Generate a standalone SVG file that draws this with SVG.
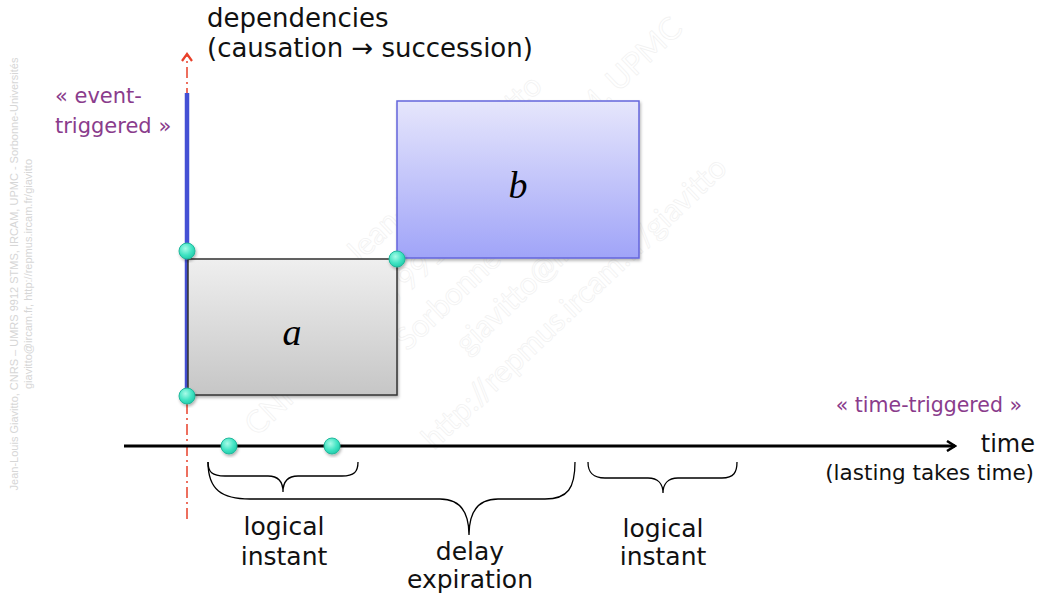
<svg xmlns="http://www.w3.org/2000/svg" width="1041" height="598" viewBox="0 0 1041 598">
<style>
.lbl{font-family:"DejaVu Sans","Liberation Sans",sans-serif;fill:#111;}
.pur{font-family:"DejaVu Sans","Liberation Sans",sans-serif;fill:#8a3c8c;}
.var{font-family:"Liberation Serif","DejaVu Serif",serif;font-style:italic;fill:#000;font-size:38px;text-anchor:middle;}
.mid{text-anchor:middle;}
.brace{fill:none;stroke:#000;stroke-width:1.3;}
.dot{fill:url(#dotg);stroke:#22b89c;stroke-width:1;filter:url(#sh);}
.wm{font-family:"Liberation Sans",sans-serif;fill:#d6d6d6;font-size:11px;text-anchor:middle;}
.wd{font-family:"Lato","DejaVu Sans",sans-serif;fill:none;stroke:#f1f1f1;stroke-width:0.7;font-size:31px;}
</style>
<defs>
<linearGradient id="ga" x1="0" y1="0" x2="0" y2="1"><stop offset="0" stop-color="#efefef"/><stop offset="1" stop-color="#c6c6c6"/></linearGradient>
<linearGradient id="gb" x1="0" y1="0" x2="0" y2="1"><stop offset="0" stop-color="#e6e6fc"/><stop offset="1" stop-color="#a0a4f8"/></linearGradient>
<radialGradient id="dotg" cx="0.4" cy="0.35" r="0.7"><stop offset="0" stop-color="#a8fbe8"/><stop offset="0.6" stop-color="#3fe3c2"/><stop offset="1" stop-color="#1fc8a8"/></radialGradient>
<filter id="sh" x="-20%" y="-20%" width="140%" height="140%"><feDropShadow dx="1" dy="2" stdDeviation="1.5" flood-color="#000" flood-opacity="0.3"/></filter>
<marker id="ah" viewBox="0 0 12 12" refX="10" refY="6" markerWidth="12" markerHeight="12" markerUnits="userSpaceOnUse" orient="auto"><path d="M2,1 L10,6 L2,11" fill="none" stroke="#000" stroke-width="2.5"/></marker>
<marker id="ahr" viewBox="0 0 12 12" refX="10" refY="6" markerWidth="12" markerHeight="12" markerUnits="userSpaceOnUse" orient="auto"><path d="M3,1 L10,6 L3,11" fill="none" stroke="#e8402a" stroke-width="2.2"/></marker>
</defs>

<g id="watermark">
<text class="wm" transform="translate(18,274) rotate(-90)">Jean-Louis Giavitto, CNRS – UMRS 9912 STMS, IRCAM, UPMC - Sorbonne-Universités</text>
<text class="wm" transform="translate(32,274) rotate(-90)">giavitto@ircam.fr, http://repmus.ircam.fr/giavitto</text>
<g transform="translate(250,430) rotate(-43.6)">
<text class="wd" x="190" y="-45">Jean-Louis Giavitto</text>
<text class="wd" x="0" y="10">CNRS – UMRS 9912 STMS, IRCAM, UPMC</text>
<text class="wd" x="168" y="52">Sorbonne-Universités</text>
<text class="wd" x="209" y="96">giavitto@ircam.fr</text>
<text class="wd" x="119" y="142">http://repmus.ircam.fr/giavitto</text>
</g>
</g>

<g id="connectors">
<line id="dep-axis" x1="187" y1="519" x2="187" y2="54" stroke="#e8402a" stroke-width="1.5" stroke-dasharray="11 4 2 4" marker-end="url(#ahr)"/>
<line id="event-line" x1="187" y1="93" x2="187" y2="395" stroke="#4450d4" stroke-width="4.5"/>
<line id="time-axis" x1="124" y1="446" x2="955" y2="446" stroke="#000" stroke-width="3" marker-end="url(#ah)"/>
<path id="brace-li1" class="brace" d="M208,462 C208,472 212,476 225,476 L268,476 C278,476 283,482 283,492 C283,482 288,476 298,476 L342,476 C354,476 358,472 358,462"/>
<path id="brace-delay" class="brace" d="M208,462 C208,490 222,499 250,499 L440,499 C460,499 469,512 469,535 C469,512 478,499 498,499 L545,499 C568,499 575,488 575,462"/>
<path id="brace-li2" class="brace" d="M588,462 C588,472 592,478 605,478 L648,478 C658,478 663,484 663,493 C663,484 668,478 678,478 L722,478 C734,478 737,472 737,462"/>
</g>

<g id="node-a">
<rect x="188" y="259" width="209" height="136" fill="url(#ga)" stroke="#333" stroke-width="1.5" filter="url(#sh)"/>
<text class="var" x="292" y="345">a</text>
</g>
<g id="node-b">
<rect x="397" y="101" width="242" height="157" fill="url(#gb)" stroke="#6466dc" stroke-width="1.5" filter="url(#sh)"/>
<text class="var" x="518" y="198">b</text>
</g>

<g id="dots">
<circle class="dot" cx="187" cy="251" r="8"/>
<circle class="dot" cx="187" cy="396" r="8"/>
<circle class="dot" cx="397" cy="259" r="8"/>
<circle class="dot" cx="229" cy="446" r="8"/>
<circle class="dot" cx="332" cy="446" r="8"/>
</g>

<g id="labels">
<text class="lbl" x="207" y="27" font-size="26">dependencies</text>
<text class="lbl" x="207" y="57" font-size="26">(causation → succession)</text>
<text class="pur" x="55" y="103" font-size="21">« event-</text>
<text class="pur" x="55" y="133" font-size="21">triggered »</text>
<text class="pur" x="1022" y="412" font-size="20.5" text-anchor="end">« time-triggered »</text>
<text class="lbl" x="1035" y="452" font-size="24" text-anchor="end">time</text>
<text class="lbl" x="1034" y="480" font-size="21.5" text-anchor="end">(lasting takes time)</text>
<text class="lbl mid" x="284" y="535" font-size="25">logical</text>
<text class="lbl mid" x="284" y="565" font-size="25">instant</text>
<text class="lbl mid" x="470" y="560" font-size="25">delay</text>
<text class="lbl mid" x="470" y="588" font-size="25">expiration</text>
<text class="lbl mid" x="663" y="537" font-size="25">logical</text>
<text class="lbl mid" x="663" y="565" font-size="25">instant</text>
</g>
</svg>
